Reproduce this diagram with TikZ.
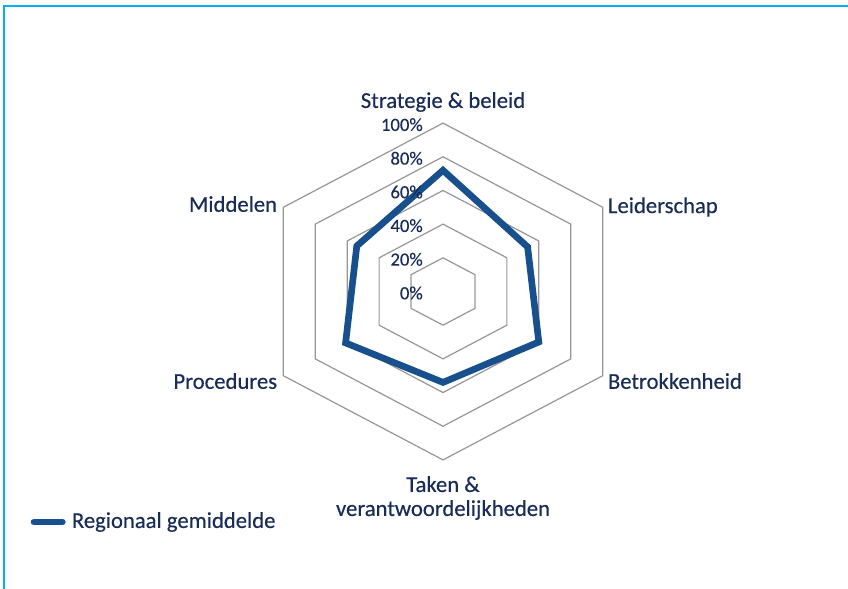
\documentclass[tikz,border=0pt]{standalone}
\usepackage{fontspec}
\setmainfont{Carlito}
\newfontfamily\labelfont{Carlito}[FakeBold=0.35]
\usetikzlibrary{positioning}

\definecolor{navy}{RGB}{24,44,88}
\definecolor{reeksblauw}{RGB}{24,79,141}
\definecolor{ringgrijs}{RGB}{150,150,150}
\definecolor{kader}{RGB}{0,176,240}

\begin{document}
\begin{tikzpicture}[x=0.75pt,y=-0.75pt,
  ring/.style={draw=ringgrijs,line width=0.9pt},
  datalijn/.style={draw=reeksblauw,line width=5pt},
  as/.style={text=navy,font=\labelfont\fontsize{17}{18}\selectfont,inner sep=2pt},
  pct/.style={text=navy,font=\labelfont\fontsize{14}{16}\selectfont,anchor=east,inner sep=0pt}]

\useasboundingbox (0,0) rectangle (848,588);
\draw[draw=kader,line width=1.2pt] (4,6) rectangle (870,610);

% rings 20% .. 100%
\begin{scope}[shift={(443,291.5)}]
\foreach \k in {1,...,5}
  \draw[ring] (0,-33.68*\k) -- (31.94*\k,-16.84*\k) -- (31.94*\k,16.84*\k)
     -- (0,33.68*\k) -- (-31.94*\k,16.84*\k) -- (-31.94*\k,-16.84*\k) -- cycle;

\coordinate (strat) at (0,-121.2);
\coordinate (leid)  at (84.6,-44.6);
\coordinate (betr)  at (95.8,50.5);
\coordinate (taken) at (0,90.9);
\coordinate (proc)  at (-97.4,51.4);
\coordinate (midd)  at (-86.2,-45.5);

\draw[datalijn] (strat) -- (leid) -- (betr) -- (taken) -- (proc) -- (midd) -- cycle;
\end{scope}

% percentages
\foreach \p/\k in {0/0,20/1,40/2,60/3,80/4,100/5}
  \node[pct] (p\p) at (423,293-33.68*\k) {\p\%};

% axis labels
\node[as]              (lstrat) at (443,102) {Strategie \& beleid};
\node[as,anchor=west]  (lleid)  at (605,207) {Leiderschap};
\node[as,anchor=west]  (lbetr)  at (605,381) {Betrokkenheid};
\node[as,align=center] (ltaken) at (443,498) {Taken \&\\verantwoordelijkheden};
\node[as,anchor=east]  (lproc)  at (280,381) {Procedures};
\node[as,anchor=east]  (lmidd)  at (280,204) {Middelen};

% legend
\coordinate (legstart) at (34,522);
\node[as,anchor=west] (legtekst) at (69,522) {Regionaal gemiddelde};
\draw[datalijn,line width=5pt,line cap=round,shorten >=5pt] (legstart) -- (legtekst.west);

\end{tikzpicture}
\end{document}
